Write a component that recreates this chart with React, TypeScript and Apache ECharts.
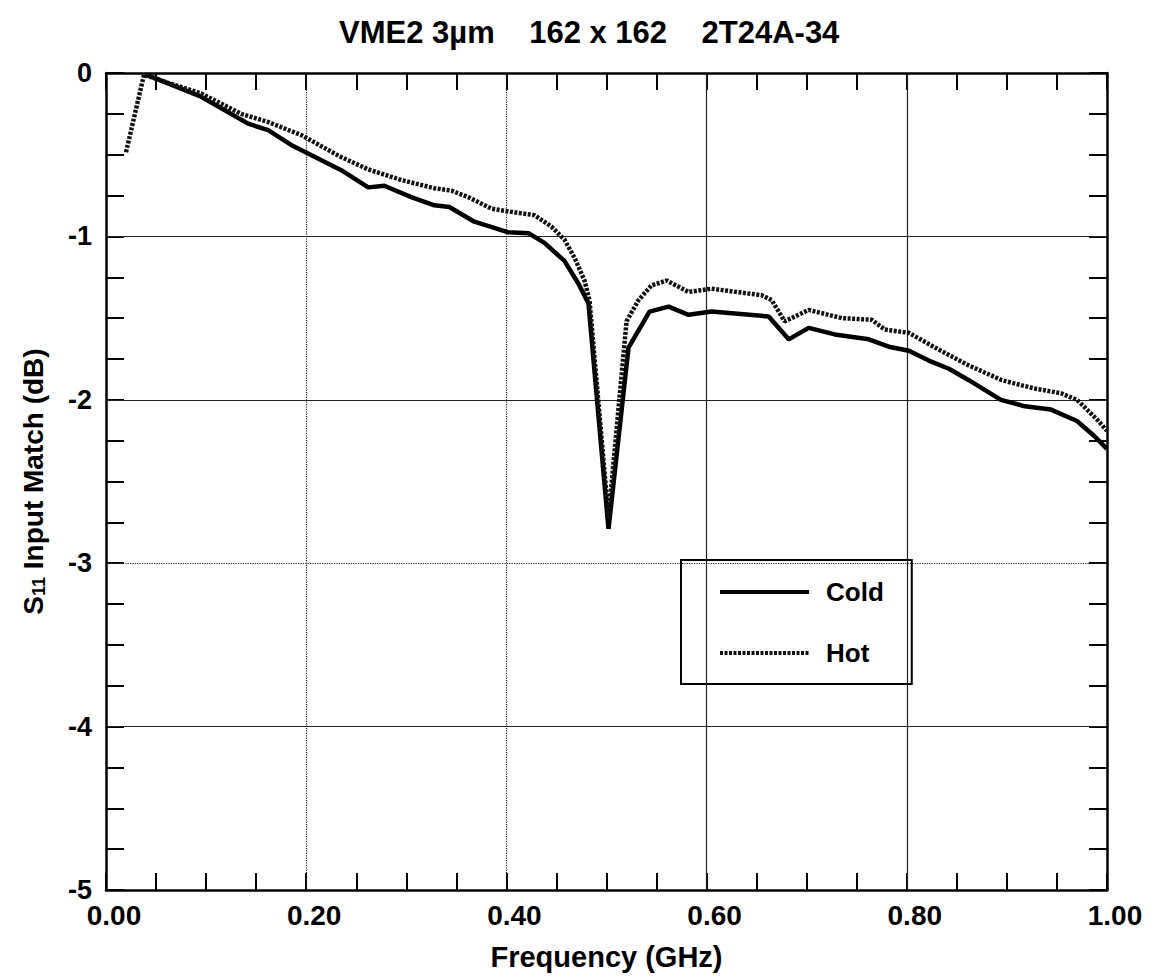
import React, { useEffect, useRef } from "react";
import * as echarts from "echarts";

const coldFreq = [0.04, 0.095, 0.142, 0.162, 0.185, 0.235, 0.262, 0.278, 0.305, 0.328, 0.343, 0.368, 0.402, 0.422, 0.438, 0.458, 0.472, 0.482, 0.502, 0.522, 0.543, 0.562, 0.582, 0.605, 0.662, 0.682, 0.702, 0.728, 0.762, 0.782, 0.802, 0.822, 0.842, 0.862, 0.894, 0.918, 0.944, 0.97, 0.987, 1.0];
const coldS11 = [-0.01, -0.145, -0.31, -0.35, -0.44, -0.595, -0.7, -0.69, -0.76, -0.81, -0.82, -0.91, -0.975, -0.98, -1.04, -1.15, -1.29, -1.41, -2.79, -1.68, -1.46, -1.43, -1.48, -1.46, -1.49, -1.63, -1.56, -1.6, -1.63, -1.675, -1.7, -1.76, -1.81, -1.88, -2.0, -2.04, -2.06, -2.13, -2.22, -2.3];

const hotFreq = [0.02, 0.038, 0.062, 0.095, 0.135, 0.162, 0.195, 0.235, 0.262, 0.295, 0.328, 0.345, 0.362, 0.385, 0.405, 0.428, 0.445, 0.458, 0.468, 0.478, 0.483, 0.502, 0.52, 0.532, 0.545, 0.56, 0.582, 0.605, 0.655, 0.665, 0.678, 0.702, 0.735, 0.765, 0.778, 0.802, 0.828, 0.862, 0.895, 0.927, 0.954, 0.97, 0.99, 1.0];
const hotS11 = [-0.485, -0.01, -0.06, -0.125, -0.25, -0.3, -0.38, -0.515, -0.59, -0.655, -0.705, -0.72, -0.76, -0.83, -0.85, -0.87, -0.94, -1.02, -1.13, -1.27, -1.39, -2.72, -1.52, -1.39, -1.3, -1.27, -1.34, -1.32, -1.36, -1.39, -1.52, -1.45, -1.5, -1.51, -1.57, -1.59, -1.68, -1.79, -1.88, -1.93, -1.96, -2.0, -2.12, -2.19];

const solidGridX = [0.6, 0.8];
const dottedGridX = [0.2, 0.4];
const solidGridY = [-1, -2, -4];
const dottedGridY = [-3];

const FONT = "Liberation Sans, Arial, Helvetica, sans-serif";

export default function App() {
  const ref = useRef<HTMLDivElement>(null);
  useEffect(() => {
    document.body.style.margin = "0";
    if (!ref.current) return;
    const chart = echarts.init(ref.current, undefined, { renderer: "svg" });
    const zip = (a: number[], b: number[]) => a.map((v, i) => [v, b[i]]);
    const gridLine = (type: string) => ({ color: "#222", width: 1.2, type });
    const markData = [
      ...solidGridX.map((v) => ({ xAxis: v, lineStyle: gridLine("solid") })),
      ...dottedGridX.map((v) => ({ xAxis: v, lineStyle: gridLine("dotted") })),
      ...solidGridY.map((v) => ({ yAxis: v, lineStyle: gridLine("solid") })),
      ...dottedGridY.map((v) => ({ yAxis: v, lineStyle: gridLine("dotted") })),
    ];
    const xCommon = {
      type: "value",
      min: 0,
      max: 1,
      interval: 0.2,
      splitLine: { show: false },
      axisLine: { show: true, onZero: false, lineStyle: { color: "#000", width: 2.5 } },
      axisTick: { show: true, inside: true, length: 17, lineStyle: { color: "#000", width: 2 } },
      minorTick: { show: true, splitNumber: 4, length: 17, lineStyle: { color: "#000", width: 2 } },
    };
    const yCommon = {
      type: "value",
      min: -5,
      max: 0,
      interval: 1,
      splitLine: { show: false },
      axisLine: { show: true, onZero: false, lineStyle: { color: "#000", width: 2.5 } },
      axisTick: { show: true, inside: true, length: 18, lineStyle: { color: "#000", width: 2 } },
      minorTick: { show: true, splitNumber: 4, length: 18, lineStyle: { color: "#000", width: 2 } },
    };
    chart.setOption({
      animation: false,
      backgroundColor: "#fff",
      title: {
        text: "VME2 3µm\u00a0\u00a0\u00a0\u00a0162 x 162\u00a0\u00a0\u00a0\u00a02T24A-34",
        left: 334,
        top: 12,
        textStyle: { fontFamily: FONT, fontSize: 31, fontWeight: "bold", color: "#000" },
      },
      grid: { left: 106, right: 48, top: 73, bottom: 90, containLabel: false, outerBoundsMode: "none" },
      legend: {
        data: ["Cold", "Hot"],
        orient: "vertical",
        left: 681,
        top: 560,
        itemWidth: 89,
        itemHeight: 14,
        itemGap: 35,
        padding: [19, 28, 18, 37],
        backgroundColor: "#fff",
        borderColor: "#000",
        borderWidth: 2,
        itemStyle: { opacity: 0 },
        lineStyle: { width: 4 },
        textStyle: { fontFamily: FONT, fontSize: 26, fontWeight: "bold", color: "#000", padding: [0, 0, 0, 12] },
      },
      xAxis: [
        {
          ...xCommon,
          position: "bottom",
          name: "Frequency (GHz)",
          nameLocation: "middle",
          nameGap: 52,
          nameTextStyle: { fontFamily: FONT, fontSize: 29, fontWeight: "bold", color: "#000" },
          axisLabel: {
            formatter: (v: number) => v.toFixed(2),
            fontFamily: FONT,
            fontSize: 28,
            fontWeight: "bold",
            color: "#000",
            margin: 11,
            padding: [0, 0, 0, 16],
          },
        },
        { ...xCommon, position: "top", axisLabel: { show: false } },
      ],
      yAxis: [
        {
          ...yCommon,
          position: "left",
          name: "S{sub|11} Input Match (dB)",
          nameLocation: "middle",
          nameRotate: 90,
          nameGap: 58,
          nameTextStyle: {
            fontFamily: FONT,
            fontSize: 28,
            fontWeight: "bold",
            color: "#000",
            rich: {
              sub: { fontFamily: FONT, fontSize: 18, fontWeight: "bold", color: "#000", verticalAlign: "bottom", padding: [12, 0, 0, 0] },
            },
          },
          axisLabel: {
            formatter: (v: number) => String(v),
            fontFamily: FONT,
            fontSize: 27,
            fontWeight: "bold",
            color: "#000",
            margin: 14,
            verticalAlign: "middle",
            padding: [0, 0, 6, 0],
          },
        },
        { ...yCommon, position: "right", axisLabel: { show: false } },
      ],
      series: [
        {
          name: "grid",
          type: "line",
          data: [],
          silent: true,
          markLine: { silent: true, symbol: ["none", "none"], label: { show: false }, data: markData },
        },
        {
          name: "Cold",
          type: "line",
          data: zip(coldFreq, coldS11),
          showSymbol: false,
          symbol: "none",
          lineStyle: { color: "#000", width: 4.5, type: "solid" },
          itemStyle: { color: "#000" },
          z: 5,
        },
        {
          name: "Hot",
          type: "line",
          data: zip(hotFreq, hotS11),
          showSymbol: false,
          symbol: "none",
          lineStyle: { color: "#111", width: 4.5, type: [3, 1.5] },
          itemStyle: { color: "#111" },
          z: 6,
        },
      ],
    });
    return () => chart.dispose();
  }, []);
  return <div ref={ref} style={{ width: 1155, height: 980 }} />;
}
